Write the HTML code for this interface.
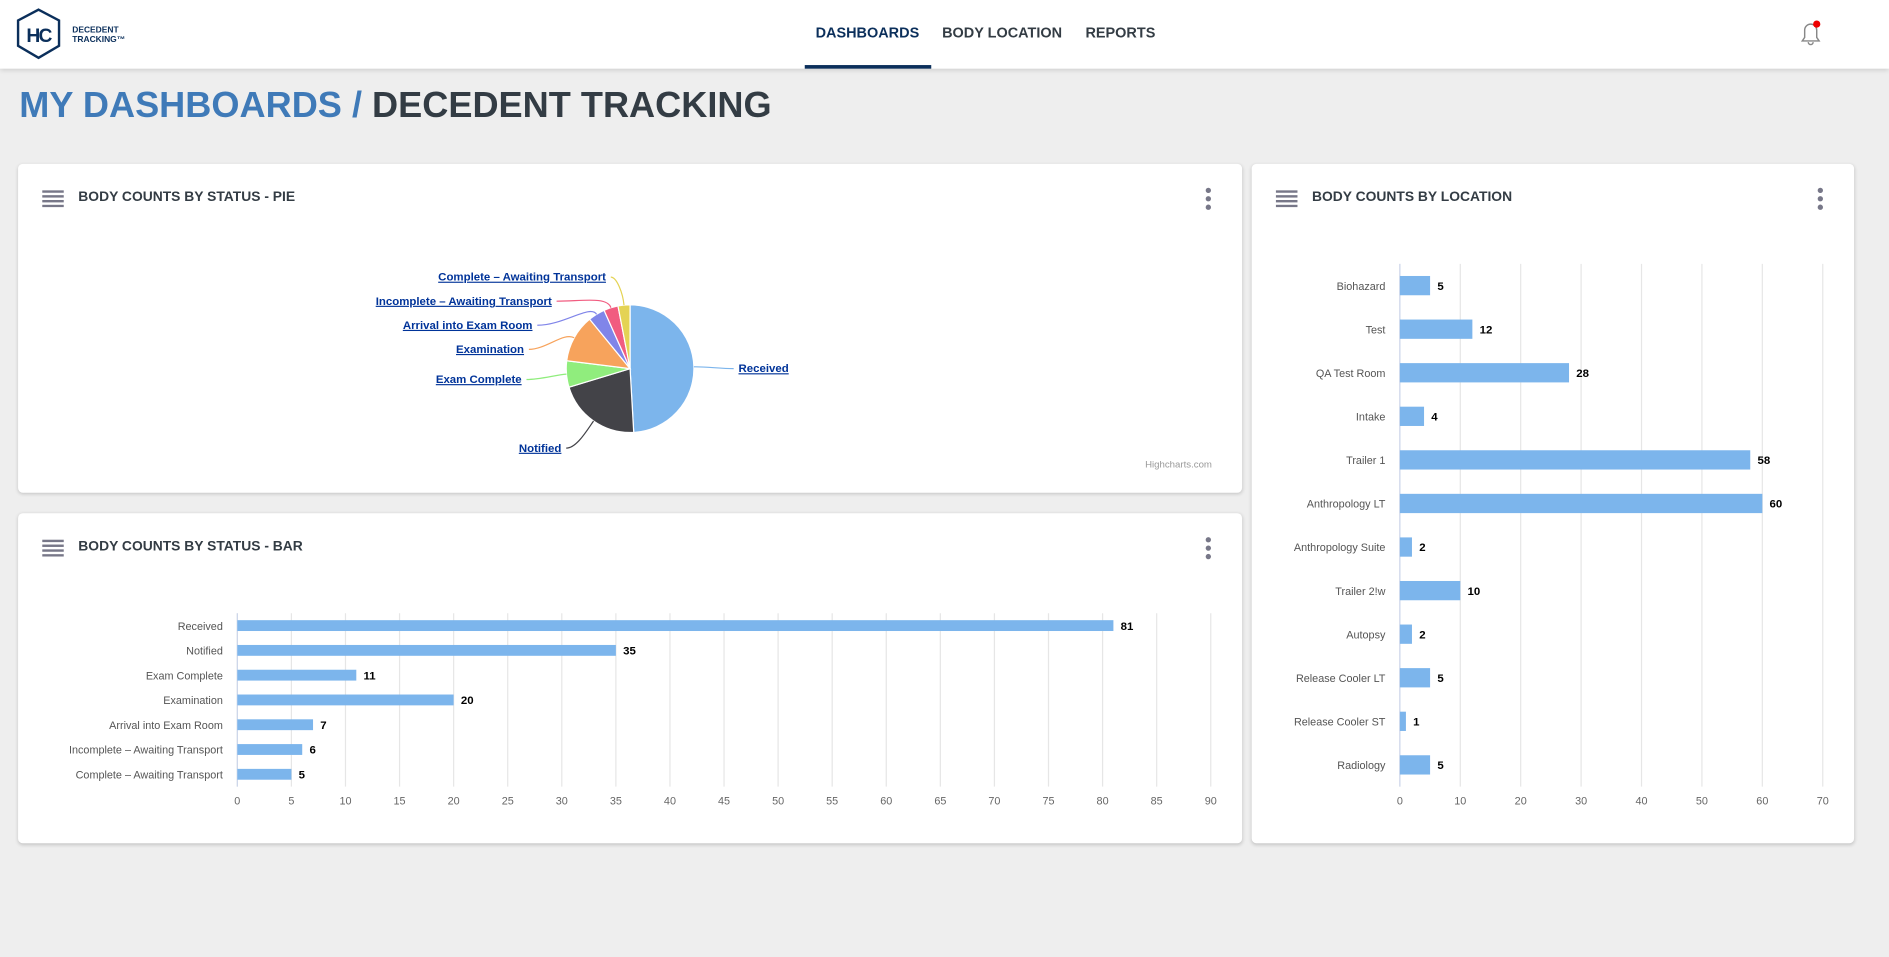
<!DOCTYPE html>
<html><head><meta charset="utf-8"><style>
html,body{margin:0;padding:0;width:1889px;height:956px;overflow:hidden;background:#eeeeee;font-family:"Liberation Sans",sans-serif}
#wrap{position:absolute;left:0;top:0;width:1568px;height:794px;transform:scale(1.20472);transform-origin:0 0}
.hdr{position:absolute;left:0;top:0;width:1568px;height:57px;background:#fff;box-shadow:0 1px 4px rgba(0,0,0,.15)}
.nav{position:absolute;top:20px;font-size:12px;font-weight:bold;color:#333c44}
.card{position:absolute;background:#fff;border-radius:4px;box-shadow:0 1px 3px rgba(0,0,0,.18)}
.ct{position:absolute;left:50px;top:22px;font-size:11.5px;font-weight:bold;color:#333c44}
.ham{position:absolute;left:20px;top:21px;width:18px;height:15px}
.keb{position:absolute;top:19px;width:6px;height:20px}
svg text{font-family:"Liberation Sans",sans-serif}
</style></head><body>
<div id="wrap">
<div class="hdr">
  <svg style="position:absolute;left:13px;top:6px" width="100" height="44">
    <polygon points="19,2 36,11 36,32 19,42 2,32 2,11" fill="none" stroke="#0b2f5b" stroke-width="2"/>
    <text x="19" y="29" text-anchor="middle" font-size="16" font-weight="bold" fill="#0b2f5b" letter-spacing="-1.5">HC</text>
    <text x="47" y="21" font-size="7" font-weight="bold" fill="#0b2f5b">DECEDENT</text>
    <text x="47" y="29" font-size="7" font-weight="bold" fill="#0b2f5b">TRACKING™</text>
  </svg>
  <div class="nav" style="left:677px;color:#0b2f5b">DASHBOARDS</div>
  <div style="position:absolute;left:668px;top:54px;width:105px;height:3px;background:#0b2f5b"></div>
  <div class="nav" style="left:782px">BODY LOCATION</div>
  <div class="nav" style="left:901px">REPORTS</div>
  <svg style="position:absolute;left:1492px;top:16px" width="22" height="22">
    <path d="M4,18 L18,18 L16,15 L16,9 A5,5 0 0 0 6,9 L6,15 Z" fill="none" stroke="#888" stroke-width="1.2"/>
    <path d="M9,19 A2,2 0 0 0 13,19" fill="none" stroke="#888" stroke-width="1.2"/>
    <circle cx="16" cy="4" r="3" fill="#e00"/>
  </svg>
</div>
<div style="position:absolute;left:16px;top:71px;font-size:30px;font-weight:bold;white-space:nowrap"><span style="color:#3f7ab8">MY DASHBOARDS / </span><span style="color:#333c44">DECEDENT TRACKING</span></div>

<!-- Card 1 pie -->
<div class="card" style="left:15px;top:136px;width:1016px;height:273px">
  <svg class="ham"><rect y="1" width="18" height="2" fill="#778"/><rect y="5" width="18" height="2" fill="#778"/><rect y="9" width="18" height="2" fill="#778"/><rect y="13" width="18" height="2" fill="#778"/></svg>
  <div class="ct">BODY COUNTS BY STATUS - PIE</div>
  <svg class="keb" style="left:985px"><circle cx="3" cy="3" r="2.2" fill="#778"/><circle cx="3" cy="10" r="2.2" fill="#778"/><circle cx="3" cy="17" r="2.2" fill="#778"/></svg>
  <svg id="pie" style="position:absolute;left:0;top:0" width="1016" height="273"></svg>
</div>

<!-- Card 2 bar -->
<div class="card" style="left:15px;top:426px;width:1016px;height:274px">
  <svg class="ham"><rect y="1" width="18" height="2" fill="#778"/><rect y="5" width="18" height="2" fill="#778"/><rect y="9" width="18" height="2" fill="#778"/><rect y="13" width="18" height="2" fill="#778"/></svg>
  <div class="ct">BODY COUNTS BY STATUS - BAR</div>
  <svg class="keb" style="left:985px"><circle cx="3" cy="3" r="2.2" fill="#778"/><circle cx="3" cy="10" r="2.2" fill="#778"/><circle cx="3" cy="17" r="2.2" fill="#778"/></svg>
  <svg id="bar1" style="position:absolute;left:0;top:0" width="1016" height="274"></svg>
</div>

<!-- Card 3 location -->
<div class="card" style="left:1039px;top:136px;width:500px;height:564px">
  <svg class="ham"><rect y="1" width="18" height="2" fill="#778"/><rect y="5" width="18" height="2" fill="#778"/><rect y="9" width="18" height="2" fill="#778"/><rect y="13" width="18" height="2" fill="#778"/></svg>
  <div class="ct">BODY COUNTS BY LOCATION</div>
  <svg class="keb" style="left:469px"><circle cx="3" cy="3" r="2.2" fill="#778"/><circle cx="3" cy="10" r="2.2" fill="#778"/><circle cx="3" cy="17" r="2.2" fill="#778"/></svg>
  <svg id="bar2" style="position:absolute;left:0;top:0" width="500" height="564"></svg>
</div>
</div>
<script>
const NS='http://www.w3.org/2000/svg';
function mk(p,t,a,txt){const e=document.createElementNS(NS,t);for(const k in a)e.setAttribute(k,a[k]);if(txt!==undefined)e.textContent=txt;p.appendChild(e);return e;}

// Pie data
const pieCats=['Received','Notified','Exam Complete','Examination','Arrival into Exam Room','Incomplete - Awaiting Transport','Complete - Awaiting Transport'];
const pieVals=[81,35,11,20,7,6,5];
const pieColors=['#7cb5ec','#434348','#90ed7d','#f7a35c','#8085e9','#f15c80','#e4d354'];
// label anchor positions (layout, card coords)
const pieLab=[[598,173,'start'],[451,239,'end'],[418,182,'end'],[420,157,'end'],[427,137,'end'],[443,117,'end'],[488,97,'end']];

(function(){
  const s=document.getElementById('pie');
  const cx=508,cy=170,r=53;
  const tot=pieVals.reduce((a,b)=>a+b,0);
  let a0=0;
  pieVals.forEach((v,i)=>{
    const a1=a0+v/tot*Math.PI*2;
    const x0=cx+r*Math.sin(a0),y0=cy-r*Math.cos(a0),x1=cx+r*Math.sin(a1),y1=cy-r*Math.cos(a1);
    const p=mk(s,'path',{d:`M${cx},${cy} L${x0},${y0} A${r},${r} 0 ${a1-a0>Math.PI?1:0} 1 ${x1},${y1} Z`,fill:pieColors[i],stroke:'#fff','stroke-width':1});
    
    
    const am=(a0+a1)/2;
    const ex=cx+r*Math.sin(am),ey=cy-r*Math.cos(am);
    const L=pieLab[i];
    const lx=L[2]=='start'?L[0]-4:L[0]+4;
    const mx=cx+(r+10)*Math.sin(am),my=cy-(r+10)*Math.cos(am);
    mk(s,'path',{d:`M${lx},${L[1]-3} C${(lx+mx)/2},${L[1]-3} ${mx},${my} ${ex},${ey}`,fill:'none',stroke:pieColors[i],'stroke-width':1});
    const t=mk(s,'text',{x:L[0],y:L[1],'text-anchor':L[2],'font-size':'9.5','font-weight':'bold',fill:'#003399','text-decoration':'underline'},pieCats[i].replace(' - ',' – '));
    
    
    a0=a1;
  });
  const c=mk(s,'text',{x:991,y:252,'text-anchor':'end','font-size':'8',fill:'#999'},'Highcharts.com');
  
  
})();

// Status bar data
const statCats=['Received','Notified','Exam Complete','Examination','Arrival into Exam Room','Incomplete - Awaiting Transport','Complete - Awaiting Transport'];
const statVals=[81,35,11,20,7,6,5];
const statTicks=[0,5,10,15,20,25,30,35,40,45,50,55,60,65,70,75,80,85,90];

// Location data
const locCats=['Biohazard','Test','QA Test Room','Intake','Trailer 1','Anthropology LT','Anthropology Suite','Trailer 2!w','Autopsy','Release Cooler LT','Release Cooler ST','Radiology'];
const locVals=[5,12,28,4,58,60,2,10,2,5,1,5];
const locTicks=[0,10,20,30,40,50,60,70];

function hbar(id,cats,vals,ticks,o){
  const s=document.getElementById(id);
  const max=ticks[ticks.length-1];
  const xs=v=>o.x0+(v/max)*(o.x1-o.x0);
  const step=(o.bottom-o.top)/cats.length;
  ticks.forEach(t=>{
    const g=mk(s,'line',{x1:xs(t),x2:xs(t),y1:o.top,y2:o.bottom,stroke:'#e6e6e6','stroke-width':1});
    
    
    const tl=mk(s,'text',{x:xs(t),y:o.bottom+15,'text-anchor':'middle','font-size':'9',fill:'#666'},t);
    
    
  });
  mk(s,'line',{x1:o.x0,x2:o.x0,y1:o.top,y2:o.bottom,stroke:'#ccd6eb','stroke-width':1});
  cats.forEach((c,i)=>{
    const yc=o.top+step*(i+0.5);
    const cl=mk(s,'text',{x:o.x0-12,y:yc+3.5,'text-anchor':'end','font-size':'9',fill:'#555'},c.replace(' - ',' – '));
    
    
    const b=mk(s,'rect',{x:o.x0,y:yc-o.bh/2,width:xs(vals[i])-o.x0,height:o.bh,fill:'#7cb5ec'});
    
    
    const vl=mk(s,'text',{x:xs(vals[i])+6,y:yc+3.5,'font-size':'9.5','font-weight':'bold',fill:'#000'},vals[i]);
    
    
  });
}
hbar('bar1',statCats,statVals,statTicks,{x0:182,x1:990,top:83,bottom:227,bh:9});
hbar('bar2',locCats,locVals,locTicks,{x0:123,x1:474,top:83,bottom:517,bh:16});
</script>
</body></html>
